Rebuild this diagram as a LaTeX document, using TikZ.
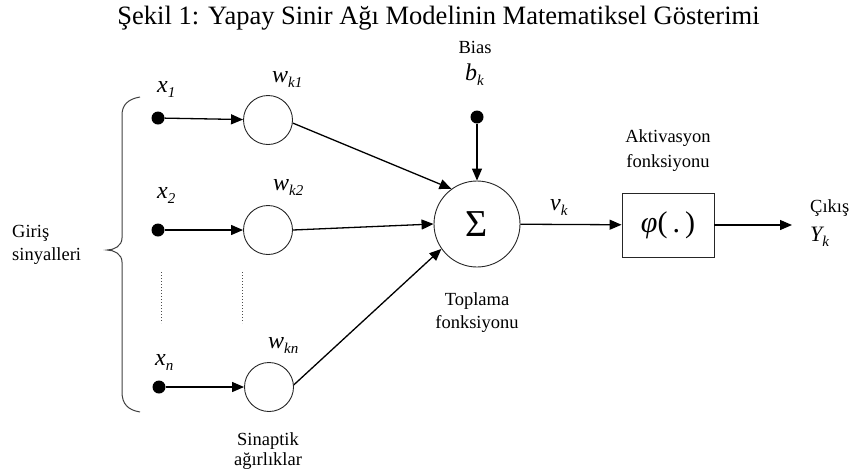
\documentclass[tikz,border=0pt]{standalone}
\usepackage{fontspec}
\setmainfont{Liberation Serif}
\usetikzlibrary{arrows.meta}
\newcommand\mlab[2]{{\fontsize{24}{24}\selectfont\itshape #1}\raisebox{-5pt}{\fontsize{15}{15}\selectfont\itshape #2}}
\tikzset{
  lbl/.style={inner sep=0pt, font=\fontsize{18.5}{20}\selectfont},
  mlabel/.style={inner sep=0pt, anchor=base west},
  dotnode/.style={circle, fill=black, inner sep=0pt, minimum size=13pt},
  wcirc/.style={circle, draw=black!85, line width=0.9pt, inner sep=0pt, minimum size=49pt},
  arr/.style={-{Triangle[length=12pt,width=10pt]}, line width=1.3pt, black},
  conn/.style={line width=1.3pt, black},
}
\begin{document}
\begin{tikzpicture}[x=1pt,y=-1pt]
\useasboundingbox (0,0) rectangle (851,475);
% title
\node[inner sep=0pt, anchor=base, font=\fontsize{26.5}{28}\selectfont] (title) at (438.5,24) {Şekil 1: Yapay Sinir Ağı Modelinin Matematiksel Gösterimi};
% input dots and weight circles
\node[dotnode] (d1) at (158,118) {};
\node[dotnode] (d2) at (158,230) {};
\node[dotnode] (dn) at (159,387) {};
\node[wcirc] (w1) at (268,120) {};
\node[wcirc] (w2) at (268,230) {};
\node[wcirc] (wn) at (269,387) {};
\draw[arr] (d1) -- (w1);
\draw[arr] (d2) -- (w2);
\draw[arr] (dn) -- (wn);
% labels
\node[mlabel] (lx1) at (157,92) {\mlab{x}{1}};
\node[mlabel] (lx2) at (157,198) {\mlab{x}{2}};
\node[mlabel] (lxn) at (155,365) {\mlab{x}{n}};
\node[mlabel] (lw1) at (272,82) {\mlab{w}{k1}};
\node[mlabel] (lw2) at (273,190) {\mlab{w}{k2}};
\node[mlabel] (lwn) at (268,348) {\mlab{w}{kn}};
% dotted lines
\coordinate (p1a) at (161,272); \coordinate (p1b) at (161,323);
\coordinate (p2a) at (242,272); \coordinate (p2b) at (242,323);
\draw[dotted, line width=1pt, black!70] (p1a) -- (p1b);
\draw[dotted, line width=1pt, black!70] (p2a) -- (p2b);
% brace
\draw[line width=1pt, black!75] (140,97) .. controls (128,99) and (122,105) .. (122,115) -- (122,238)
  .. controls (122,246) and (114,250) .. (107,250)
  .. controls (114,250) and (122,254) .. (122,262) -- (122,392)
  .. controls (122,404) and (128,410) .. (140,412);
\node[lbl, anchor=base west] (gir1) at (12,237) {Giriş};
\node[lbl, anchor=base west] (gir2) at (12,260) {sinyalleri};
\node[lbl, anchor=base] (sin1) at (268,445) {Sinaptik};
\node[lbl, anchor=base] (sin2) at (268,465) {ağırlıklar};
% summation
\node[circle, draw=black!85, line width=0.9pt, inner sep=0pt, minimum size=86pt, font=\fontsize{38}{38}\selectfont] (sig) at (477,224) {Σ};
\draw[arr] (w1.-7) -- (sig.126);
\draw[arr] (w2.east) -- (sig.180);
\draw[arr] (wn.5) -- (sig.215);
% bias
\node[lbl, anchor=base] (bias) at (475,53) {Bias};
\node[mlabel] (lb) at (465,80) {\mlab{b}{k}};
\node[dotnode] (db) at (477,117) {};
\draw[arr] (db) -- (sig);
\node[lbl, anchor=base] (top1) at (477,305) {Toplama};
\node[lbl, anchor=base] (top2) at (477,328) {fonksiyonu};
% activation
\node[draw=black!85, line width=0.9pt, inner sep=0pt, minimum width=92pt, minimum height=64pt, font=\fontsize{30}{30}\selectfont] (act) at (668,225) {\itshape φ\upshape(\,.\,)};
\draw[arr] (sig) -- (act);
\node[mlabel] (lv) at (550,210) {\mlab{v}{k}};
\node[lbl, anchor=base] (ak1) at (668,142) {Aktivasyon};
\node[lbl, anchor=base] (ak2) at (668,167) {fonksiyonu};
% output
\coordinate (out) at (792,225);
\draw[arr] (act) -- (out);
\node[lbl, anchor=base west] (cik) at (810,212) {Çıkış};
\node[mlabel] (ly) at (810,241) {{\fontsize{22}{22}\selectfont\itshape Y}\raisebox{-5pt}{\fontsize{15}{15}\selectfont\itshape k}};
\end{tikzpicture}
\end{document}
